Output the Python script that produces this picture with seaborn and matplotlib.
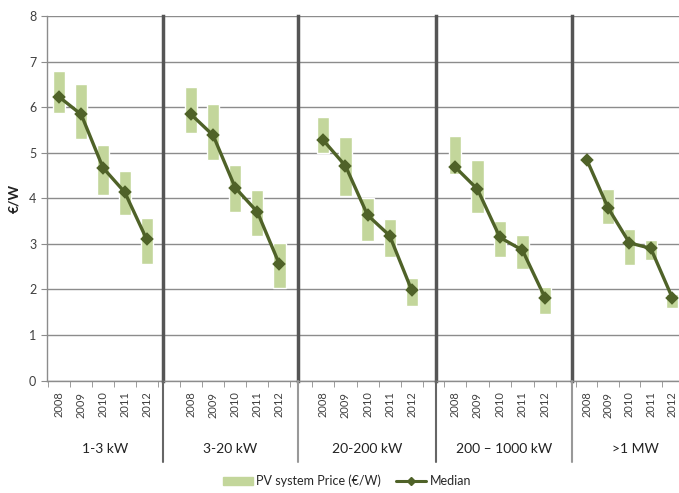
import numpy as np
import pandas as pd
import matplotlib
matplotlib.use('Agg')
import matplotlib.pyplot as plt
from matplotlib.lines import Line2D
from matplotlib.patches import Patch
import seaborn as sns

years = ['2008', '2009', '2010', '2011', '2012']
size_classes = ['1-3 kW', '3-20 kW', '20-200 kW', '200 – 1000 kW', '>1 MW']

# median system price (EUR/W) per size class
median = [
    [6.22, 5.84, 4.67, 4.13, 3.10],
    [5.84, 5.38, 4.23, 3.70, 2.55],
    [5.27, 4.71, 3.63, 3.18, 1.98],
    [4.69, 4.20, 3.14, 2.86, 1.82],
    [4.85, 3.79, 3.02, 2.90, 1.82],
]
# price range (low / high) per size class
price_low = [
    [5.87, 5.29, 4.08, 3.63, 2.55],
    [5.44, 4.84, 3.70, 3.17, 2.04],
    [5.00, 4.05, 3.07, 2.70, 1.63],
    [4.54, 3.67, 2.71, 2.44, 1.47],
    [np.nan, 3.43, 2.53, 2.64, 1.59],
]
price_high = [
    [6.79, 6.50, 5.16, 4.59, 3.57],
    [6.44, 6.06, 4.73, 4.19, 3.01],
    [5.79, 5.35, 4.01, 3.54, 2.24],
    [5.37, 4.85, 3.50, 3.19, 2.06],
    [np.nan, 4.21, 3.32, 3.08, 1.90],
]

rows = []
for i, sc in enumerate(size_classes):
    for j, yr in enumerate(years):
        rows.append({'size': sc, 'year': yr, 'median': median[i][j],
                     'low': price_low[i][j], 'high': price_high[i][j]})
df = pd.DataFrame(rows)

sns.set_style('white')
plt.rcParams['font.family'] = ['Lato', 'DejaVu Sans']

box_color = '#c3d69b'
line_color = '#4f6228'
grid_color = '#8c8c8c'
text_color = '#404040'

W, H = 679, 493
fig = plt.figure(figsize=(W / 100, H / 100), dpi=100)

# panel edges in pixels and x-limits (the source chart is a bit uneven)
edges = [46.7, 163, 298, 436, 571.5, 700]
xlims = [(-0.58, 4.75), (-1.27, 4.84), (-1.15, 5.10), (-0.84, 5.18), (-0.71, 5.30)]
y_bottom_px, y_top_px = 380.5, 16
bottom = (H - y_bottom_px) / H
height = (y_bottom_px - y_top_px) / H

for i, sc in enumerate(size_classes):
    ax = fig.add_axes([edges[i] / W, bottom, (edges[i + 1] - edges[i]) / W, height])
    sub = df[df['size'] == sc].reset_index(drop=True)

    ax.bar(range(len(years)), sub['high'] - sub['low'], bottom=sub['low'],
           width=0.55, color=box_color, zorder=2)
    sns.pointplot(data=sub, x='year', y='median', color=line_color, marker='D',
                  markersize=5.5, linewidth=2.4, errorbar=None, ax=ax)

    ax.set_ylim(0, 8)
    ax.set_xlim(*xlims[i])
    ax.set_yticks(range(9))
    ax.set_axisbelow(True)
    ax.grid(axis='y', color=grid_color, lw=1)
    ax.grid(axis='x', visible=False)
    ax.set_xlabel('')
    ax.set_ylabel('')

    ax.set_xticks(range(len(years)))
    ax.set_xticklabels(years, rotation=90, fontsize=8, color=text_color)
    ax.set_xticks(np.arange(-0.5, len(years), 1), minor=True)
    ax.tick_params(axis='x', which='major', length=0, pad=8)
    ax.tick_params(axis='x', which='minor', length=4, color=grid_color,
                   direction='out', bottom=True)

    for s in ['top', 'right']:
        ax.spines[s].set_visible(False)
    ax.spines['bottom'].set_color(grid_color)
    ax.spines['bottom'].set_linewidth(1)

    if i == 0:
        ax.spines['left'].set_color(grid_color)
        ax.spines['left'].set_linewidth(1)
        ax.tick_params(axis='y', labelsize=9, labelcolor=text_color, length=4,
                       color=grid_color, left=True, direction='out')
        ax.set_ylabel('€/W', fontsize=10, fontweight='bold', color='#222222', labelpad=6)
    else:
        ax.spines['left'].set_color('#555555')
        ax.spines['left'].set_linewidth(2.5)
        ax.tick_params(axis='y', left=False, labelleft=False)
        # separator below the axis, between the year labels
        xf = edges[i] / W
        fig.add_artist(Line2D([xf, xf], [bottom, (H - 462) / H], transform=fig.transFigure,
                              color='#666666' if i in (1, 3) else '#999999', lw=1.5))

    ax.text(0.5, -0.188, sc, transform=ax.transAxes, ha='center', va='center',
            fontsize=10, color='#222222')

handles = [Patch(color=box_color, label='PV system Price (€/W)'),
           Line2D([], [], color=line_color, marker='D', lw=2.2, markersize=4.5, label='Median')]
fig.legend(handles=handles, loc='center', bbox_to_anchor=(347 / W, (H - 481) / H), ncol=2,
           frameon=False, fontsize=9, handlelength=2.4, columnspacing=1.2, handletextpad=0.3)

fig.savefig('out.png', dpi=100)
